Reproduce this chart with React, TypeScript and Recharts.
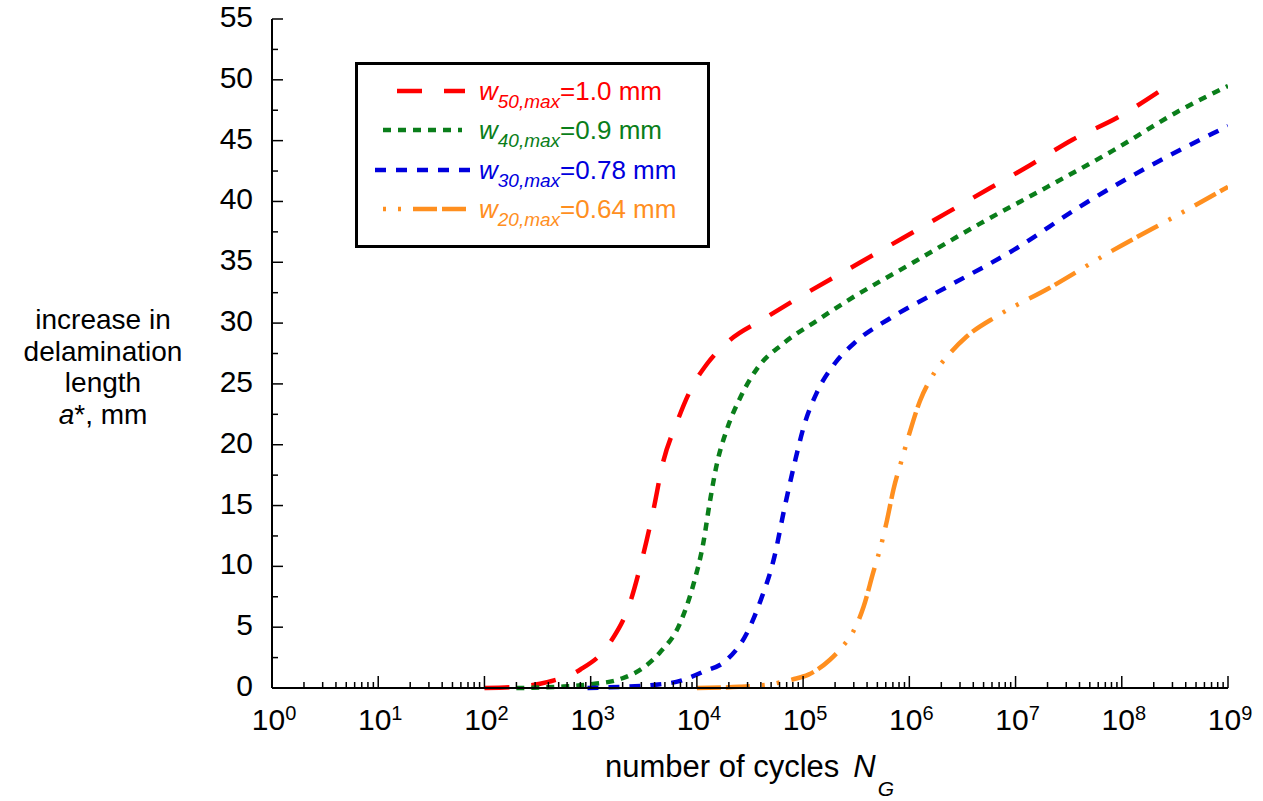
import React from "react";
import { LineChart, Line, XAxis, YAxis, Legend } from "recharts";

// decades shown on the x axis (exponents of 10)
const decades: number[] = [0, 1, 2, 3, 4, 5, 6, 7, 8, 9];
const yTicks: number[] = [
  0, 2.5, 5, 7.5, 10, 12.5, 15, 17.5, 20, 22.5, 25, 27.5, 30, 32.5, 35, 37.5, 40, 42.5, 45, 47.5, 50, 52.5, 55,
];

// [log10(N), a*]
const w50: [number, number][] = [
  [2.0, 0], [2.3, 0.1], [2.6, 0.5], [2.9, 1.5], [3.18, 3.7], [3.37, 7.0], [3.49, 10.8], [3.59, 14.6],
  [3.68, 18.5], [3.81, 21.8], [3.94, 24.5], [4.1, 26.7], [4.31, 28.6], [4.62, 30.3], [4.94, 32.0],
  [5.54, 35.0], [5.94, 37.0], [6.36, 39.1], [6.76, 41.1], [7.14, 43.0], [7.54, 45.1], [7.96, 46.9], [8.38, 49.2],
];
const w40: [number, number][] = [
  [2.3, 0], [2.7, 0.1], [3.0, 0.3], [3.3, 0.8], [3.5, 1.7], [3.65, 2.9], [3.84, 5.3], [3.97, 8.6],
  [4.06, 11.9], [4.12, 15.2], [4.19, 18.5], [4.28, 21.2], [4.41, 23.9], [4.57, 26.3], [4.81, 28.3],
  [5.13, 30.2], [5.41, 31.8], [6.04, 35.0], [6.67, 38.2], [7.3, 41.2], [7.92, 44.2], [8.55, 47.5], [9.0, 49.5],
];
const w30: [number, number][] = [
  [2.97, 0], [3.3, 0.1], [3.59, 0.25], [3.85, 0.6], [4.05, 1.3], [4.28, 2.3], [4.47, 4.5], [4.6, 7.2],
  [4.73, 10.8], [4.82, 14.6], [4.92, 18.5], [5.01, 21.6], [5.13, 24.3], [5.3, 26.7], [5.5, 28.5],
  [5.82, 30.4], [6.36, 33.0], [6.98, 36.0], [7.61, 39.6], [8.24, 42.8], [8.86, 45.6], [9.0, 46.2],
];
const w20: [number, number][] = [
  [4.0, 0], [4.4, 0.1], [4.75, 0.4], [4.9, 0.7], [5.05, 1.1], [5.25, 2.3], [5.37, 3.4], [5.47, 4.6],
  [5.57, 6.7], [5.66, 9.5], [5.73, 11.6], [5.79, 13.8], [5.85, 16.3], [5.93, 18.8], [6.01, 21.2],
  [6.1, 23.6], [6.2, 25.4], [6.38, 27.5], [6.54, 28.9], [6.83, 30.6], [7.3, 32.8], [7.92, 36.0],
  [8.55, 39.0], [9.0, 41.2],
];

const FONT = "'Liberation Sans', Arial, Helvetica, sans-serif";

const series = [
  { id: "50", value: "1.0", pts: w50, color: "#ff0000", dash: "25 22", x1: 42, x2: 110, off: 0 },
  { id: "40", value: "0.9", pts: w40, color: "#0a7e1a", dash: "8 7", x1: 28, x2: 107, off: 0 },
  { id: "30", value: "0.78", pts: w30, color: "#0000dd", dash: "11 10", x1: 20, x2: 115, off: 0 },
  { id: "20", value: "0.64", pts: w20, color: "#ff8f1f", dash: "24 5 24 12 3 12 3 12", x1: 16, x2: 111, off: 53 },
];

const toData = (pts: [number, number][]) => pts.map(([e, a]) => ({ n: Math.pow(10, e), a }));

const xTicks: number[] = [];
decades.forEach((e) => {
  if (e === decades[decades.length - 1]) {
    xTicks.push(Math.pow(10, e));
    return;
  }
  for (let k = 1; k <= 9; k++) xTicks.push(k * Math.pow(10, e));
});

const XTick = (props: any) => {
  const { x, y, payload } = props;
  const e = Math.log10(payload.value);
  const major = Math.abs(e - Math.round(e)) < 1e-6;
  return (
    <g>
      <line x1={x} x2={x} y1={y} y2={y - (major ? 12 : 6)} stroke="#000" strokeWidth={1.5} />
      {major && (
        <text x={x + 2} y={y + 42} textAnchor="middle" fontSize={30} fontFamily={FONT} fill="#000">
          10
          <tspan dy={-10} fontSize={20}>
            {Math.round(e)}
          </tspan>
        </text>
      )}
    </g>
  );
};

const YTick = (props: any) => {
  const { x, y, payload } = props;
  const major = payload.value % 5 === 0;
  return (
    <g>
      <line x1={x} x2={x + (major ? 11 : 6)} y1={y} y2={y} stroke="#000" strokeWidth={1.5} />
      {major && (
        <text x={x - 19} y={y + 8} textAnchor="end" fontSize={30} fontFamily={FONT} fill="#000">
          {payload.value}
        </text>
      )}
    </g>
  );
};

// y title: four lines, 31.5 px apart
const yTitleLines: string[] = ["increase in", "delamination", "length"];

const YLabel = () => (
  <g fontSize={28} fontFamily={FONT} fill="#000">
    {yTitleLines.map((t, i) => (
      <text key={t} x={103} y={329 + i * 31.5} textAnchor="middle">
        {t}
      </text>
    ))}
    <text x={103} y={329 + 3 * 31.5} textAnchor="middle">
      <tspan fontStyle="italic">a</tspan>*, mm
    </text>
  </g>
);

const XLabel = () => (
  <text x={605} y={777} fontSize={31} fontFamily={FONT} fill="#000">
    number of cycles
    <tspan fontStyle="italic" dx={14}>N</tspan>
    <tspan fontStyle="italic" fontSize={21} dx={2} dy={19}>G</tspan>
  </text>
);

const LegendBox = () => (
  <svg width={355} height={186} style={{ display: "block" }}>
    <rect x={1.5} y={1.5} width={352} height={183} fill="#fff" stroke="#000" strokeWidth={3} />
    {series.map((s, i) => {
      const cy = [29, 68, 108, 147][i];
      return (
        <g key={s.id}>
          <line
            x1={s.x1}
            x2={s.x2}
            y1={cy}
            y2={cy}
            stroke={s.color}
            strokeWidth={4.5}
            strokeDasharray={s.dash}
            strokeDashoffset={s.off}
          />
          <text x={124} y={cy + 9} fontSize={26} fontFamily={FONT} fill={s.color}>
            <tspan fontStyle="italic">w</tspan>
            <tspan fontStyle="italic" fontSize={19} dy={8}>{`${s.id},max`}</tspan>
            <tspan dy={-8}>{`=${s.value} mm`}</tspan>
          </text>
        </g>
      );
    })}
  </svg>
);

export default function App() {
  return (
    <div style={{ position: "absolute", left: 0, top: 0, background: "#fff" }}>
      <LineChart width={1263} height={801} margin={{ top: 19, right: 35, bottom: 53, left: 212 }}>
        <XAxis
          dataKey="n"
          type="number"
          scale="log"
          domain={[1, 1e9]}
          ticks={xTicks}
          interval={0}
          allowDataOverflow
          height={60}
          tickSize={0}
          tickMargin={0}
          tick={<XTick />}
          axisLine={{ stroke: "#000", strokeWidth: 2 }}
          label={{ content: () => <XLabel /> }}
        />
        <XAxis xAxisId="top" orientation="top" type="number" domain={[0, 1]} height={0} tick={false} tickLine={false} axisLine={{ stroke: "#000", strokeWidth: 2 }} />
        <YAxis
          type="number"
          domain={[0, 55]}
          ticks={yTicks}
          interval={0}
          width={60}
          tickSize={0}
          tickMargin={0}
          tick={<YTick />}
          axisLine={{ stroke: "#000", strokeWidth: 2 }}
          label={{ content: () => <YLabel /> }}
        />
        <YAxis yAxisId="right" orientation="right" type="number" domain={[0, 1]} width={0} tick={false} tickLine={false} axisLine={{ stroke: "#000", strokeWidth: 2 }} />
        <Legend
          layout="horizontal"
          verticalAlign="middle"
          align="center"
          content={() => <LegendBox />}
          wrapperStyle={{ left: 355, top: 62, width: 355, height: 186 }}
        />
        {series.map((s) => (
          <Line
            key={s.id}
            data={toData(s.pts)}
            dataKey="a"
            type="monotone"
            stroke={s.color}
            strokeWidth={4.5}
            strokeDasharray={s.dash}
            dot={false}
            activeDot={false}
            isAnimationActive={false}
          />
        ))}
      </LineChart>
    </div>
  );
}
